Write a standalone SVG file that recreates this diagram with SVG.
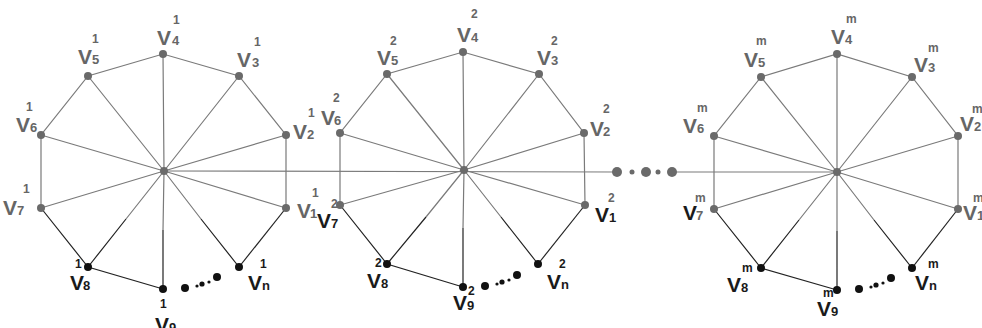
<svg xmlns="http://www.w3.org/2000/svg" width="982" height="328" viewBox="0 0 982 328">
<style>
.e{stroke:#7a7a7a;stroke-width:1.2;fill:none}
.d{stroke:#222;stroke-width:1.2;fill:none}
.ng{fill:#6a6a6a}
.nk{fill:#111}
text{font-family:"Liberation Sans",Arial,sans-serif;font-weight:bold}
.V{font-size:21px}
.s{font-size:13px}
.p{font-size:12px}
.g{fill:#666}
.k{fill:#1a1a1a}
</style>
<rect width="982" height="328" fill="#fff"/>
<g id="connectors">
<!-- wheel 1 -->
<polyline class="e" points="286,208 286,135 239,76 163,54 88,76 41,135 41,208"/>
<polyline class="d" points="41,208 88,267 163,289"/>
<polyline class="d" points="239,267 286,208"/>
<path class="e" d="M164,171L286,208M164,171L286,135M164,171L239,76M164,171L163,54M164,171L88,76M164,171L41,135M164,171L41,208M164,171L126,219M164,171L163,230M164,171L201,219"/>
<path class="d" d="M126,219L88,267M163,230L163,289M201,219L239,267"/>
<!-- wheel 2 -->
<polyline class="e" points="585,205 584,133 539,74 463,52 387,74 340,133 340,205"/>
<polyline class="d" points="340,205 387,264 463,287"/>
<polyline class="d" points="538,264 585,205"/>
<path class="e" d="M464,170L585,205M464,170L584,133M464,170L539,74M464,170L463,52M464,170L387,74M464,170L340,133M464,170L340,205M464,170L426,217M464,170L463,228M464,170L501,217"/>
<path class="d" d="M426,217L387,264M463,228L463,287M501,217L538,264"/>
<!-- wheel 3 -->
<polyline class="e" points="958,209 958,136 912,77 837,54 761,77 714,136 714,209"/>
<polyline class="d" points="714,209 761,268 837,290"/>
<polyline class="d" points="912,268 958,209"/>
<path class="e" d="M837,172L958,209M837,172L958,136M837,172L912,77M837,172L837,54M837,172L761,77M837,172L714,136M837,172L714,209M837,172L799,220M837,172L837,231M837,172L874,220"/>
<path class="d" d="M799,220L761,268M837,231L837,290M874,220L912,268"/>
<!-- horizontal link -->
<path class="e" d="M164,171L617,172M672,172L837,172"/>
<!-- dots between wheels -->
<g class="ng">
<circle cx="617" cy="172" r="5"/><circle cx="632" cy="172" r="2.5"/><circle cx="646" cy="172" r="5"/><circle cx="658" cy="172" r="2.5"/><circle cx="672" cy="172" r="5"/>
</g>
<!-- ellipsis dots -->
<g class="nk">
<circle cx="185" cy="288" r="4"/><circle cx="197" cy="286" r="1.6"/><circle cx="202" cy="284" r="2.6"/><circle cx="209" cy="282" r="1.6"/><circle cx="217" cy="277" r="4"/>
<circle cx="485" cy="286" r="4"/><circle cx="497" cy="284" r="1.6"/><circle cx="502" cy="282" r="2.6"/><circle cx="509" cy="280" r="1.6"/><circle cx="517" cy="275" r="4"/>
<circle cx="859" cy="289" r="4"/><circle cx="871" cy="287" r="1.6"/><circle cx="876" cy="285" r="2.6"/><circle cx="883" cy="283" r="1.6"/><circle cx="891" cy="278" r="4"/>
</g>
</g>

<!-- wheel 1 nodes -->
<g id="w1-c"><circle class="ng" cx="164" cy="171" r="4"/></g>
<g id="w1-v1"><circle class="ng" cx="286" cy="208" r="4"/><text class="V g" x="297" y="218">V</text><text class="s g" x="310" y="218">1</text><text class="p g" x="312" y="197">1</text></g>
<g id="w1-v2"><circle class="ng" cx="286" cy="135" r="4"/><text class="V g" x="293" y="139">V</text><text class="s g" x="307" y="139">2</text><text class="p g" x="308" y="117">1</text></g>
<g id="w1-v3"><circle class="ng" cx="239" cy="76" r="4"/><text class="V g" x="237" y="67">V</text><text class="s g" x="252" y="67">3</text><text class="p g" x="254" y="46">1</text></g>
<g id="w1-v4"><circle class="ng" cx="163" cy="54" r="4"/><text class="V g" x="157" y="45">V</text><text class="s g" x="172" y="45">4</text><text class="p g" x="173" y="24">1</text></g>
<g id="w1-v5"><circle class="ng" cx="88" cy="76" r="4"/><text class="V g" x="78" y="64">V</text><text class="s g" x="92" y="64">5</text><text class="p g" x="92" y="43">1</text></g>
<g id="w1-v6"><circle class="ng" cx="41" cy="135" r="4"/><text class="V g" x="16" y="132">V</text><text class="s g" x="30" y="132">6</text><text class="p g" x="26" y="111">1</text></g>
<g id="w1-v7"><circle class="ng" cx="41" cy="208" r="4"/><text class="V g" x="3" y="215">V</text><text class="s g" x="17" y="215">7</text><text class="p g" x="23" y="193">1</text></g>
<g id="w1-v8"><circle class="nk" cx="88" cy="267" r="4"/><text class="V k" x="70" y="290">V</text><text class="s k" x="83" y="290">8</text><text class="p k" x="75" y="268">1</text></g>
<g id="w1-v9"><circle class="nk" cx="163" cy="289" r="4"/><text class="V k" x="155" y="332">V</text><text class="s k" x="169" y="332">9</text><text class="p k" x="160" y="308">1</text></g>
<g id="w1-vn"><circle class="nk" cx="239" cy="267" r="4"/><text class="V k" x="248" y="290">V</text><text class="s k" x="262" y="290">n</text><text class="p k" x="260" y="268">1</text></g>

<!-- wheel 2 nodes -->
<g id="w2-c"><circle class="ng" cx="464" cy="170" r="4"/></g>
<g id="w2-v1"><circle class="ng" cx="585" cy="205" r="4"/><text class="V k" x="595" y="222">V</text><text class="s k" x="609" y="222">1</text><text class="p g" x="608" y="202">2</text></g>
<g id="w2-v2"><circle class="ng" cx="584" cy="133" r="4"/><text class="V g" x="590" y="136">V</text><text class="s g" x="603" y="136">2</text><text class="p g" x="603" y="113">2</text></g>
<g id="w2-v3"><circle class="ng" cx="539" cy="74" r="4"/><text class="V g" x="537" y="65">V</text><text class="s g" x="551" y="65">3</text><text class="p g" x="551" y="45">2</text></g>
<g id="w2-v4"><circle class="ng" cx="463" cy="52" r="4"/><text class="V g" x="457" y="42">V</text><text class="s g" x="471" y="42">4</text><text class="p g" x="471" y="18">2</text></g>
<g id="w2-v5"><circle class="ng" cx="387" cy="74" r="4"/><text class="V g" x="377" y="65">V</text><text class="s g" x="391" y="65">5</text><text class="p g" x="390" y="45">2</text></g>
<g id="w2-v6"><circle class="ng" cx="340" cy="133" r="4"/><text class="V g" x="321" y="125">V</text><text class="s g" x="334" y="125">6</text><text class="p g" x="333" y="102">2</text></g>
<g id="w2-v7"><circle class="ng" cx="340" cy="205" r="4"/><text class="V k" x="317" y="228">V</text><text class="s k" x="331" y="228">7</text><text class="p g" x="331" y="208">2</text></g>
<g id="w2-v8"><circle class="nk" cx="387" cy="264" r="4"/><text class="V k" x="367" y="288">V</text><text class="s k" x="381" y="288">8</text><text class="p k" x="375" y="267">2</text></g>
<g id="w2-v9"><circle class="nk" cx="463" cy="287" r="4"/><text class="V k" x="453" y="310">V</text><text class="s k" x="467" y="310">9</text><text class="p k" x="468" y="295">2</text></g>
<g id="w2-vn"><circle class="nk" cx="538" cy="264" r="4"/><text class="V k" x="547" y="289">V</text><text class="s k" x="561" y="289">n</text><text class="p k" x="559" y="268">2</text></g>

<!-- wheel 3 nodes -->
<g id="w3-c"><circle class="ng" cx="837" cy="172" r="4"/></g>
<g id="w3-v1"><circle class="ng" cx="958" cy="209" r="4"/><text class="V g" x="963" y="220">V</text><text class="s g" x="977" y="220">1</text><text class="p g" x="973" y="202">m</text></g>
<g id="w3-v2"><circle class="ng" cx="958" cy="136" r="4"/><text class="V g" x="960" y="131">V</text><text class="s g" x="974" y="131">2</text><text class="p g" x="972" y="113">m</text></g>
<g id="w3-v3"><circle class="ng" cx="912" cy="77" r="4"/><text class="V g" x="914" y="72">V</text><text class="s g" x="928" y="72">3</text><text class="p g" x="928" y="52">m</text></g>
<g id="w3-v4"><circle class="ng" cx="837" cy="54" r="4"/><text class="V g" x="831" y="44">V</text><text class="s g" x="845" y="44">4</text><text class="p g" x="846" y="23">m</text></g>
<g id="w3-v5"><circle class="ng" cx="761" cy="77" r="4"/><text class="V g" x="744" y="67">V</text><text class="s g" x="758" y="67">5</text><text class="p g" x="756" y="45">m</text></g>
<g id="w3-v6"><circle class="ng" cx="714" cy="136" r="4"/><text class="V g" x="683" y="133">V</text><text class="s g" x="697" y="133">6</text><text class="p g" x="697" y="112">m</text></g>
<g id="w3-v7"><circle class="ng" cx="714" cy="209" r="4"/><text class="V k" x="683" y="220">V</text><text class="s g" x="696" y="220">7</text><text class="p g" x="695" y="202">m</text></g>
<g id="w3-v8"><circle class="nk" cx="761" cy="268" r="4"/><text class="V k" x="727" y="292">V</text><text class="s k" x="741" y="292">8</text><text class="p k" x="742" y="272">m</text></g>
<g id="w3-v9"><circle class="nk" cx="837" cy="290" r="4"/><text class="V k" x="817" y="316">V</text><text class="s k" x="831" y="316">9</text><text class="p k" x="823" y="297">m</text></g>
<g id="w3-vn"><circle class="nk" cx="912" cy="268" r="4"/><text class="V k" x="915" y="290">V</text><text class="s k" x="929" y="290">n</text><text class="p k" x="928" y="268">m</text></g>
</svg>
